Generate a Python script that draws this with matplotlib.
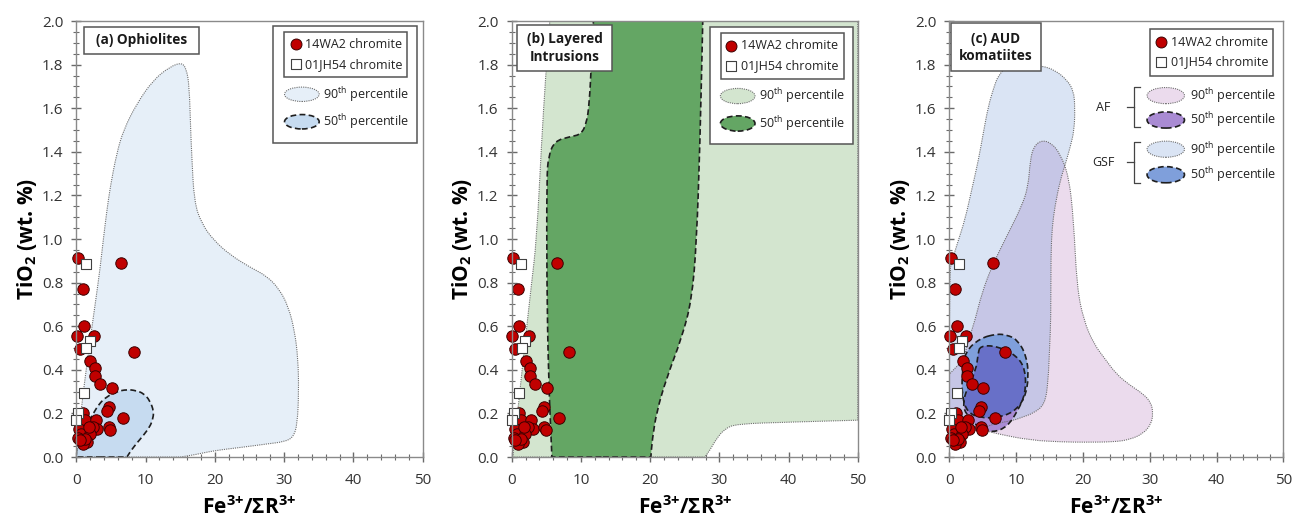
import numpy as np
import matplotlib
matplotlib.use("Agg")
import matplotlib.pyplot as plt
from matplotlib.path import Path
from matplotlib.patches import PathPatch, Rectangle, Ellipse
from matplotlib.lines import Line2D
from matplotlib.ticker import MultipleLocator, FormatStrFormatter

plt.rcParams['font.family'] = ['Open Sans', 'DejaVu Sans']
plt.rcParams['mathtext.fontset'] = 'custom'
plt.rcParams['mathtext.rm'] = 'Open Sans'
plt.rcParams['mathtext.it'] = 'Open Sans:italic'
plt.rcParams['mathtext.bf'] = 'Open Sans:bold'

# ---------------- data ----------------
wa2_x = [0.2, 6.5, 0.9, 1.1, 0.1, 2.5, 0.5, 8.3, 2.0, 2.7, 2.7, 3.4, 5.1, 4.7, 4.4, 6.8,
         1.0, 1.3, 2.8, 3.0, 2.4, 4.7, 4.9, 0.4, 0.7, 1.9, 1.6, 0.3, 0.9, 1.3, 0.5, 1.8]
wa2_y = [0.914, 0.892, 0.77, 0.603, 0.556, 0.555, 0.494, 0.48, 0.44, 0.41, 0.37, 0.333,
         0.318, 0.229, 0.209, 0.18, 0.204, 0.17, 0.172, 0.13, 0.138, 0.137, 0.122, 0.128,
         0.107, 0.105, 0.07, 0.086, 0.062, 0.082, 0.076, 0.14]
jh54_x = [1.4, 1.95, 1.45, 1.1, 0.3, 0.0]
jh54_y = [0.885, 0.532, 0.498, 0.295, 0.204, 0.17]

x_ticks = [0, 10, 20, 30, 40, 50]
y_ticks = [0.0, 0.2, 0.4, 0.6, 0.8, 1.0, 1.2, 1.4, 1.6, 1.8, 2.0]

# traced field outlines (Fe3+/SumR3+, TiO2)
oph90 = [(0, 0), (0, 0), (0.3, 0.1), (1.0, 0.3), (2.0, 0.54), (2.8, 0.72), (3.4, 0.86),
         (3.9, 1.0), (4.4, 1.13), (4.9, 1.24), (5.8, 1.39), (6.8, 1.5), (8.7, 1.62),
         (11.1, 1.73), (13.5, 1.79), (15.2, 1.81), (15.9, 1.78), (16.3, 1.70),
         (16.5, 1.5), (16.65, 1.39), (17.0, 1.17), (18.1, 1.07), (19.8, 0.995),
         (22.2, 0.927), (25.1, 0.87), (27.5, 0.83), (29.3, 0.77), (30.6, 0.69),
         (31.5, 0.58), (32.0, 0.45), (32.1, 0.3), (31.9, 0.15), (31.3, 0.09),
         (30.0, 0.07), (27.5, 0.06), (24, 0.045), (20, 0.03), (17, 0.01), (15, 0), (15, 0)]
oph50 = [(0, 0), (0, 0), (0, 0.04), (0.3, 0.063), (1.2, 0.13), (2.45, 0.2), (3.3, 0.245),
         (4.4, 0.277), (5.8, 0.3), (7.3, 0.31), (8.6, 0.305), (9.7, 0.292), (10.6, 0.26),
         (11.2, 0.208), (11.0, 0.17), (10.6, 0.139), (9.7, 0.1), (8.7, 0.063),
         (7.9, 0.03), (7.3, 0), (7.3, 0)]
lay90 = [(0.15, 0), (0.15, 0), (1.0, 0.25), (2.0, 0.55), (2.8, 0.78), (3.6, 1.0),
         (4.3, 1.44), (4.9, 1.75), (5.5, 2.0), (5.5, 2.0), (50, 2.0), (50, 2.0),
         (50, 0.169), (50, 0.169), (40, 0.16), (32.5, 0.152), (30.8, 0.13),
         (29.6, 0.085), (28.6, 0.03), (27.9, 0), (27.9, 0)]
lay50 = [(5.8, 0), (5.8, 0), (5.3, 0.37), (5.06, 0.82), (5.06, 1.28), (5.3, 1.38),
         (6.2, 1.45), (8.5, 1.47), (10.0, 1.48), (10.8, 1.53), (11.2, 1.62), (11.5, 1.8),
         (11.8, 2.0), (11.8, 2.0), (27.6, 2.0), (27.6, 2.0), (27.2, 1.44), (26.7, 0.98),
         (26.0, 0.72), (24.6, 0.55), (22.4, 0.365), (20.95, 0.21), (20.3, 0.08),
         (20.1, 0), (20.1, 0)]
gsf90 = [(0, 0.08), (0, 0.08), (0, 0.85), (0.4, 0.9), (1.2, 0.98), (2.35, 1.09),
         (3.3, 1.22), (4.34, 1.36), (5.1, 1.49), (5.84, 1.61), (6.6, 1.69), (7.3, 1.75),
         (8.6, 1.79), (11, 1.8), (13.8, 1.795), (15.8, 1.775), (17.6, 1.73), (18.6, 1.68),
         (18.8, 1.607), (18.7, 1.5), (18.1, 1.423), (17.4, 1.347), (16.6, 1.27),
         (15.8, 1.15), (15.4, 1.056), (15.2, 0.934), (15.2, 0.63), (15.0, 0.5),
         (14.8, 0.35), (14.3, 0.24), (12.5, 0.2), (11.1, 0.185), (9.6, 0.168),
         (7.1, 0.155), (4.5, 0.13), (2.0, 0.1)]
af90 = [(13.8, 1.454), (15.3, 1.44), (16.6, 1.39), (17.9, 1.286), (18.6, 1.087),
        (19.1, 0.78), (20.1, 0.628), (21.6, 0.52), (23.3, 0.45), (25.0, 0.38),
        (27, 0.33), (29, 0.29), (30.2, 0.25), (30.5, 0.2), (30.2, 0.15), (29, 0.107),
        (27, 0.08), (24.6, 0.069), (20, 0.068), (17.1, 0.069), (12.1, 0.077),
        (7.1, 0.107), (5.6, 0.12), (3.6, 0.138), (1.5, 0.15), (0, 0.16), (0, 0.16),
        (0, 0.38), (0, 0.38), (0.6, 0.40), (2.1, 0.445), (3.0, 0.55), (3.85, 0.628),
        (4.85, 0.75), (6.35, 0.874), (8.8, 1.026), (10.8, 1.148), (11.8, 1.24),
        (12.1, 1.36), (12.6, 1.423)]
gsf50 = [(7.1, 0.565), (8.6, 0.56), (10.1, 0.54), (11.5, 0.47), (11.9, 0.368),
         (11.3, 0.268), (9.6, 0.205), (7.1, 0.18), (4.6, 0.18), (2.7, 0.205),
         (1.9, 0.277), (1.9, 0.39), (2.4, 0.485), (4.6, 0.545)]
af50 = [(4.6, 0.51), (7.1, 0.51), (10.1, 0.465), (11.4, 0.40), (11.4, 0.29),
        (10.2, 0.21), (8.7, 0.14), (6.6, 0.112), (4.5, 0.13), (2.5, 0.195),
        (2.0, 0.245), (2.6, 0.31), (4.0, 0.40), (4.3, 0.474)]

DOT = dict(linestyle=(0, (1, 1)), linewidth=0.8, edgecolor='#6e6e6e')
DASH = dict(linestyle=(0, (3.5, 2)), linewidth=1.2, edgecolor='#1e1e1e')


def smooth_path(pts):
    p = np.asarray(pts, dtype=float)
    mids = (p + np.roll(p, -1, axis=0)) / 2.0
    verts = [mids[-1]]
    codes = [Path.MOVETO]
    for i in range(len(p)):
        verts += [p[i], mids[i]]
        codes += [Path.CURVE3, Path.CURVE3]
    verts.append(mids[-1])
    codes.append(Path.CLOSEPOLY)
    return Path(verts, codes)


def fill(ax, pts, color, z, clip=None):
    pp = PathPatch(smooth_path(pts), facecolor=color, edgecolor='none', zorder=z)
    ax.add_patch(pp)
    if clip is not None:
        pp.set_clip_path(clip)
    return pp


def outline(ax, pts, style, z):
    pp = PathPatch(smooth_path(pts), facecolor='none', zorder=z, **style)
    ax.add_patch(pp)
    return pp


fig = plt.figure(figsize=(12.92, 5.17), dpi=100)
H = 0.8433
B = 0.116
ax_a = fig.add_axes([0.0591, B, 0.2681, H])
ax_b = fig.add_axes([0.3961, B, 0.2678, H])
ax_c = fig.add_axes([0.7348, B, 0.2585, H])

SPC = '#8a8a8a'


def setup(ax):
    ax.set_xlim(0, 50)
    ax.set_ylim(0, 2)
    ax.set_xticks(x_ticks)
    ax.set_yticks(y_ticks)
    ax.xaxis.set_minor_locator(MultipleLocator(2))
    ax.yaxis.set_minor_locator(MultipleLocator(0.05))
    ax.yaxis.set_major_formatter(FormatStrFormatter('%.1f'))
    for sp in ax.spines.values():
        sp.set_color(SPC)
        sp.set_linewidth(1.0)
        sp.set_zorder(20)
    ax.tick_params(which='major', direction='inout', length=7, width=1.0, color='#6a6a6a',
                   labelsize=11, labelcolor='#333333', pad=6)
    ax.tick_params(axis='x', which='major', pad=8)
    ax.tick_params(which='minor', direction='inout', length=4, width=0.8, color='#6a6a6a')
    ax.set_xlabel(r'Fe$^{\mathbf{3{+}}}$/ΣR$^{\mathbf{3{+}}}$', fontsize=15,
                  fontweight='bold', labelpad=6)
    ax.set_ylabel(r'TiO$_\mathbf{2}$ (wt. %)', fontsize=15, fontweight='bold', labelpad=2)


def points(ax):
    ax.scatter(wa2_x, wa2_y, s=68, c='#c00000', edgecolors='#3b0000', linewidths=0.7,
               zorder=10, clip_on=False)
    ax.scatter(jh54_x, jh54_y, s=62, marker='s', c='white', edgecolors='#404040',
               linewidths=0.8, zorder=11, clip_on=False)


def box(ax, x0, y0, x1, y1, z=12):
    ax.add_patch(Rectangle((x0, y0), x1 - x0, y1 - y0, transform=ax.transAxes,
                           facecolor='white', edgecolor='#555555', linewidth=1.1,
                           zorder=z))


def title(ax, x0, y0, x1, y1, text):
    box(ax, x0, y0, x1, y1, z=14)
    ax.text((x0 + x1) / 2, (y0 + y1) / 2, text, transform=ax.transAxes, ha='center',
            va='center', fontsize=9.8, fontweight='bold', color='#1a1a1a', zorder=15,
            linespacing=1.3)


LEG_FS = 9


def marker_entries(ax, mx, ys, tx):
    ax.scatter([mx], [ys[0]], s=62, c='#c00000', edgecolors='#3b0000', linewidths=0.7,
               transform=ax.transAxes, zorder=16, clip_on=False)
    ax.scatter([mx], [ys[1]], s=58, marker='s', c='white', edgecolors='#404040',
               linewidths=0.8, transform=ax.transAxes, zorder=16, clip_on=False)
    ax.text(tx, ys[0], '14WA2 chromite', transform=ax.transAxes, va='center', ha='left',
            fontsize=LEG_FS, color='#222222', zorder=16)
    ax.text(tx, ys[1], '01JH54 chromite', transform=ax.transAxes, va='center', ha='left',
            fontsize=LEG_FS, color='#222222', zorder=16)


def ell_entry(ax, cx, cy, w, h, color, style, label, tx):
    ax.add_patch(Ellipse((cx, cy), w, h, transform=ax.transAxes, facecolor=color,
                         zorder=16, **style))
    ax.text(tx, cy, label, transform=ax.transAxes, va='center', ha='left',
            fontsize=LEG_FS, color='#222222', zorder=16)


P90 = r'90$^{\mathrm{th}}$ percentile'
P50 = r'50$^{\mathrm{th}}$ percentile'

# ---------------- (a) Ophiolites ----------------
ax = ax_a
setup(ax)
fill(ax, oph90, '#e6eff8', 2)
fill(ax, oph50, '#c6dbf0', 3)
outline(ax, oph90, DOT, 4)
outline(ax, oph50, DASH, 5)
points(ax)
title(ax, 0.023, 0.924, 0.353, 0.987, '(a) Ophiolites')
box(ax, 0.569, 0.721, 0.983, 0.989)
box(ax, 0.600, 0.871, 0.955, 0.975, z=13)
marker_entries(ax, 0.633, [0.947, 0.901], 0.660)
ell_entry(ax, 0.651, 0.832, 0.100, 0.033, '#e6eff8', DOT, P90, 0.713)
ell_entry(ax, 0.651, 0.769, 0.100, 0.033, '#c6dbf0', DASH, P50, 0.713)

# ---------------- (b) Layered intrusions ----------------
ax = ax_b
setup(ax)
fill(ax, lay90, '#d3e5cf', 2)
fill(ax, lay50, '#64a664', 3)
outline(ax, lay90, DOT, 4)
outline(ax, lay50, DASH, 5)
points(ax)
title(ax, 0.0145, 0.885, 0.290, 0.991, '(b) Layered\nIntrusions')
box(ax, 0.573, 0.717, 0.986, 0.987)
box(ax, 0.604, 0.867, 0.960, 0.972, z=13)
marker_entries(ax, 0.635, [0.943, 0.898], 0.662)
ell_entry(ax, 0.653, 0.828, 0.100, 0.035, '#d3e5cf', DOT, P90, 0.716)
ell_entry(ax, 0.653, 0.765, 0.100, 0.035, '#64a664', DASH, P50, 0.716)

# ---------------- (c) AUD komatiites ----------------
ax = ax_c
setup(ax)
C_G90 = '#dae4f4'
C_A90 = '#ebdbed'
C_OV90 = '#c6c6e6'
C_A50 = '#a98bd3'
C_G50 = '#7f9fdb'
C_OV50 = '#6870c8'
g90 = fill(ax, gsf90, C_G90, 2)
fill(ax, af90, C_A90, 2.1)
fill(ax, af90, C_OV90, 2.2, clip=g90)
a50 = fill(ax, af50, C_A50, 3)
fill(ax, gsf50, C_G50, 3.1)
fill(ax, gsf50, C_OV50, 3.2, clip=a50)
outline(ax, gsf90, DOT, 4)
outline(ax, af90, DOT, 4.1)
outline(ax, af50, DASH, 5)
outline(ax, gsf50, DASH, 5.1)
points(ax)
title(ax, 0.005, 0.885, 0.273, 0.995, '(c) AUD\nkomatiites')
box(ax, 0.601, 0.875, 0.968, 0.981, z=13)
marker_entries(ax, 0.634, [0.951, 0.907], 0.663)
ell_entry(ax, 0.648, 0.829, 0.112, 0.037, C_A90, DOT, P90, 0.722)
ell_entry(ax, 0.648, 0.773, 0.112, 0.037, C_A50, DASH, P50, 0.722)
ell_entry(ax, 0.648, 0.706, 0.112, 0.037, C_G90, DOT, P90, 0.722)
ell_entry(ax, 0.648, 0.6475, 0.112, 0.037, C_G50, DASH, P50, 0.722)
for lab, ytop, ybot, ymid, lx in [('AF', 0.848, 0.756, 0.802, 0.46),
                                   ('GSF', 0.723, 0.629, 0.676, 0.462)]:
    ax.text(lx, ymid, lab, transform=ax.transAxes, ha='center', va='center',
            fontsize=LEG_FS, color='#222222', zorder=16)
    ax.add_line(Line2D([0.570, 0.553, 0.553, 0.570], [ytop, ytop, ybot, ybot],
                       transform=ax.transAxes, color='#444444', lw=0.9, zorder=16))
    ax.add_line(Line2D([0.533, 0.553], [ymid, ymid], transform=ax.transAxes,
                       color='#444444', lw=0.9, zorder=16))

fig.savefig('out.png', dpi=100)
